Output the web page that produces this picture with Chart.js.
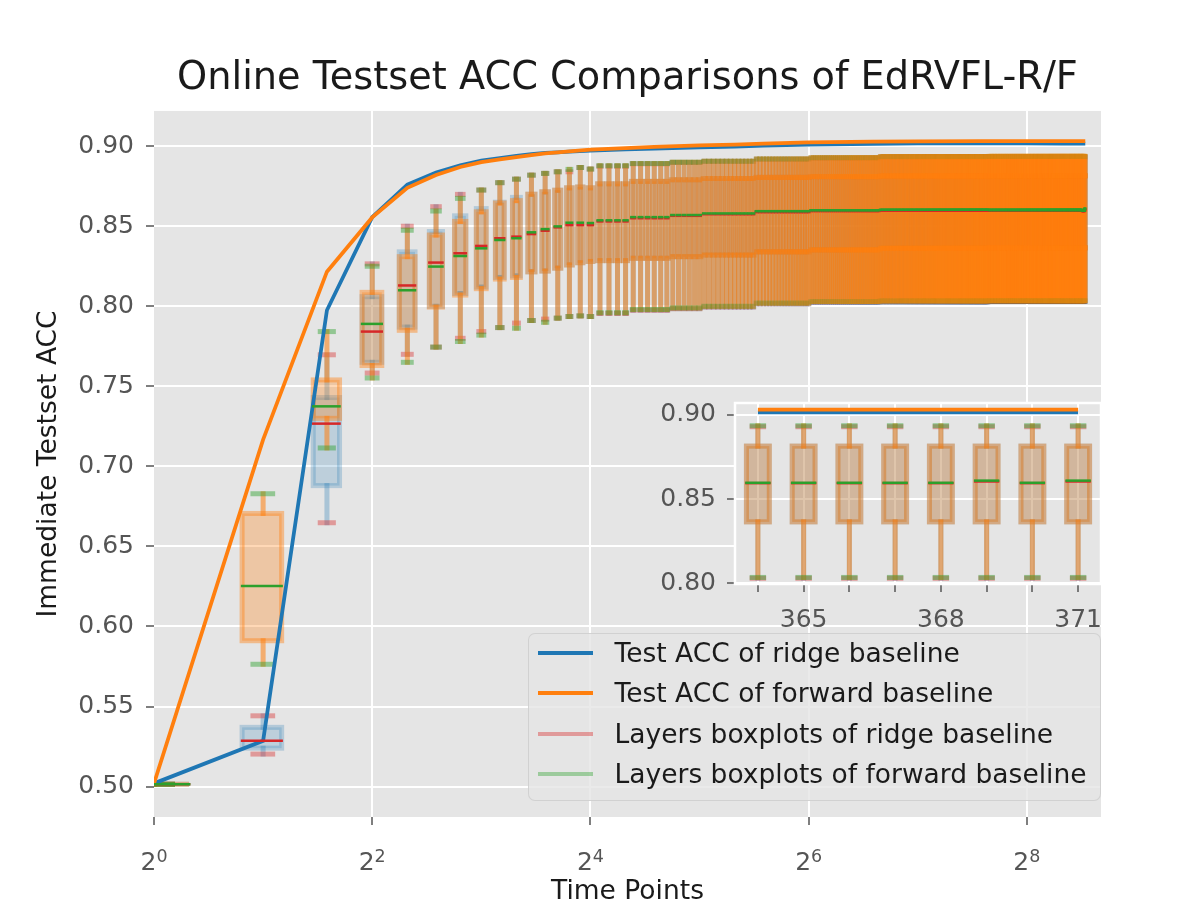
<!DOCTYPE html>
<html><head><meta charset="utf-8">
<script src="https://cdn.jsdelivr.net/npm/chart.js@4.4.1/dist/chart.umd.min.js"></script>
<style>
html,body{margin:0;padding:0;background:#fff;}
#wrap{position:relative;width:1196px;height:917px;overflow:hidden;font-family:'DejaVu Sans',sans-serif;}
#main{position:absolute;left:0;top:0;}
#inset{position:absolute;left:640px;top:377px;}
#legend{position:absolute;left:528px;top:633px;width:573px;height:168px;box-sizing:border-box;background:rgba(229,229,229,0.8);border:1.5px solid rgba(204,204,204,0.8);border-radius:7px;}
.row{position:absolute;left:0;height:40px;width:100%;}
.sw{position:absolute;left:8.5px;top:18px;width:55px;height:4px;}
.tx{position:absolute;left:85.5px;top:0;line-height:40px;font-size:26.5px;color:#1a1a1a;white-space:nowrap;}
</style></head>
<body>
<div id="wrap">
<canvas id="main" width="1196" height="917"></canvas>
<canvas id="inset" width="500" height="258"></canvas>
<div id="legend"></div>
</div>
<script>
// ---- line series (test accuracy) ----
const lineT = [1,2,3,4,5,6,7,8,9,10,11,12,13,14,16,20,24,32,40,48,64,96,128,192,256,320,364,371];
const ridgeAcc = [0.502,0.5286,0.7975,0.8557,0.8760,0.8835,0.8880,0.8910,0.8925,0.8940,0.8950,0.8958,0.8962,0.8966,0.8972,0.8980,0.8985,0.8993,0.8998,0.9003,0.9010,0.9015,0.9017,0.9018,0.9017,0.9016,0.9016,0.9016];
const forwardAcc = [0.502,0.7167,0.8216,0.8555,0.8740,0.8820,0.8870,0.8900,0.8918,0.8932,0.8944,0.8955,0.8962,0.8968,0.8978,0.8988,0.8995,0.9005,0.9010,0.9016,0.9024,0.9028,0.9030,0.9032,0.9032,0.9031,0.9031,0.9031];

// ---- layer boxplots: each row covers time points boxFrom..boxTo ----
const boxFrom = [1,2,3,4,5,6,7,8,9,10,11,12,13,14,15,16,17,21,27,33,46,65,101,201,364,365,366,367,368,369,370,371];
const boxTo   = [1,2,3,4,5,6,7,8,9,10,11,12,13,14,15,16,20,26,32,45,64,100,200,363,364,365,366,367,368,369,370,371];
const ridgeLo  = [0.5015,0.5203,0.6648,0.7583,0.7700,0.7745,0.7800,0.7842,0.7867,0.7895,0.7911,0.7920,0.7926,0.7936,0.7940,0.7936,0.7955,0.7975,0.7985,0.7995,0.8015,0.8025,0.8028,0.8030,0.8030,0.8030,0.8030,0.8030,0.8030,0.8030,0.8030,0.8030];
const ridgeQ1  = [0.5015,0.5240,0.6880,0.7650,0.7870,0.8000,0.8080,0.8120,0.8180,0.8190,0.8215,0.8220,0.8238,0.8258,0.8272,0.8280,0.8285,0.8300,0.8310,0.8320,0.8340,0.8352,0.8362,0.8365,0.8365,0.8365,0.8365,0.8365,0.8365,0.8365,0.8365,0.8365];
const ridgeMed = [0.5015,0.5286,0.7267,0.7842,0.8130,0.8273,0.8331,0.8377,0.8425,0.8435,0.8451,0.8472,0.8493,0.8507,0.8507,0.8507,0.8530,0.8550,0.8565,0.8575,0.8588,0.8595,0.8598,0.8597,0.8595,0.8595,0.8595,0.8595,0.8595,0.8605,0.8595,0.8605];
const ridgeQ3  = [0.5015,0.5370,0.7430,0.8060,0.8340,0.8467,0.8565,0.8610,0.8650,0.8680,0.8700,0.8715,0.8725,0.8740,0.8745,0.8740,0.8765,0.8780,0.8790,0.8798,0.8805,0.8810,0.8814,0.8815,0.8815,0.8815,0.8815,0.8815,0.8815,0.8815,0.8815,0.8815];
const ridgeHi  = [0.5015,0.5442,0.7697,0.8265,0.8500,0.8622,0.8699,0.8726,0.8772,0.8794,0.8819,0.8830,0.8840,0.8840,0.8867,0.8857,0.8875,0.8890,0.8898,0.8905,0.8918,0.8925,0.8932,0.8932,0.8930,0.8930,0.8930,0.8930,0.8930,0.8930,0.8930,0.8930];
const fwdLo  = [0.5015,0.5764,0.7115,0.7552,0.7650,0.7745,0.7780,0.7820,0.7867,0.7863,0.7911,0.7900,0.7926,0.7936,0.7940,0.7936,0.7960,0.7980,0.7990,0.8000,0.8020,0.8030,0.8034,0.8035,0.8035,0.8035,0.8035,0.8035,0.8035,0.8035,0.8035,0.8035];
const fwdQ1  = [0.5015,0.5911,0.7300,0.7630,0.7850,0.7995,0.8070,0.8110,0.8170,0.8180,0.8215,0.8220,0.8238,0.8258,0.8272,0.8280,0.8285,0.8300,0.8310,0.8320,0.8340,0.8352,0.8362,0.8365,0.8365,0.8365,0.8365,0.8365,0.8365,0.8365,0.8365,0.8365];
const fwdMed = [0.5015,0.6253,0.7375,0.7890,0.8100,0.8248,0.8314,0.8362,0.8414,0.8425,0.8462,0.8482,0.8499,0.8522,0.8522,0.8520,0.8537,0.8557,0.8570,0.8580,0.8594,0.8600,0.8603,0.8602,0.8597,0.8597,0.8597,0.8597,0.8597,0.8610,0.8597,0.8610];
const fwdQ3  = [0.5015,0.6706,0.7540,0.8087,0.8310,0.8445,0.8530,0.8590,0.8645,0.8660,0.8700,0.8715,0.8725,0.8740,0.8745,0.8740,0.8765,0.8780,0.8790,0.8798,0.8805,0.8810,0.8814,0.8815,0.8815,0.8815,0.8815,0.8815,0.8815,0.8815,0.8815,0.8815];
const fwdHi  = [0.5015,0.6829,0.7842,0.8250,0.8475,0.8595,0.8674,0.8726,0.8772,0.8794,0.8819,0.8830,0.8840,0.8855,0.8867,0.8857,0.8878,0.8892,0.8900,0.8906,0.8920,0.8928,0.8935,0.8936,0.8936,0.8936,0.8936,0.8936,0.8936,0.8936,0.8936,0.8936];

// ---- ticks ----
const xTickVals = [1,4,16,64,256];
const xTickBase = '2';
const xTickExp = ['0','2','4','6','8'];
const yTickVals = [0.50,0.55,0.60,0.65,0.70,0.75,0.80,0.85,0.90];
const insetXTickVals = [364,365,366,367,368,369,370,371];
const insetXLabelled = [365,368,371];
const insetYTickVals = [0.80,0.85,0.90];

Chart.defaults.font.family = "'DejaVu Sans', sans-serif";

const BOX_W = 0.5, CAP_W = 0.25;
const styles = [
  {lo:ridgeLo,q1:ridgeQ1,med:ridgeMed,q3:ridgeQ3,hi:ridgeHi,
   face:[31,119,180,0.2],edge:[31,119,180,0.25],whisk:[31,119,180,0.3],cap:[214,39,40,0.4],median:'#d62728'},
  {lo:fwdLo,q1:fwdQ1,med:fwdMed,q3:fwdQ3,hi:fwdHi,
   face:[255,127,14,0.3],edge:[255,127,14,0.42],whisk:[255,127,14,0.55],cap:[44,160,44,0.45],median:'#2ca02c'}
];
const rgba=(c,k)=>`rgba(${c[0]},${c[1]},${c[2]},${c[3]*(k===undefined?1:k)})`;

function forEachBox(fn){
  for(let i=0;i<boxFrom.length;i++) for(let t=boxFrom[i];t<=boxTo[i];t++) fn(t,i);
}
function clipArea(ctx,a){ctx.beginPath();ctx.rect(a.left,a.top,a.right-a.left,a.bottom-a.top);ctx.clip();}

function drawBoxes(chart){
  const ctx=chart.ctx, a=chart.chartArea, sx=chart.scales.x, sy=chart.scales.y;
  const inRange=t=>t+0.5>=sx.min && t-0.5<=sx.max;
  ctx.save(); clipArea(ctx,a);
  for(const s of styles){
    forEachBox((t,i)=>{
      if(!inRange(t)) return;
      const x=sx.getPixelForValue(t);
      const x0=sx.getPixelForValue(t-BOX_W/2), x1=sx.getPixelForValue(t+BOX_W/2);
      const c0=sx.getPixelForValue(t-CAP_W/2), c1=sx.getPixelForValue(t+CAP_W/2);
      const y3=sy.getPixelForValue(s.q3[i]), y1=sy.getPixelForValue(s.q1[i]);
      const yl=sy.getPixelForValue(s.lo[i]), yh=sy.getPixelForValue(s.hi[i]);
      // where neighbouring caps pile up on top of each other, soften them
      const gap=Math.abs(sx.getPixelForValue(t+1)-x);
      const capK=Math.max(0.22,Math.min(1,gap/6));
      ctx.fillStyle=rgba(s.face); ctx.fillRect(x0,y3,x1-x0,y1-y3);
      ctx.strokeStyle=rgba(s.edge); ctx.lineWidth=5; ctx.lineJoin='miter'; ctx.strokeRect(x0,y3,x1-x0,y1-y3);
      ctx.strokeStyle=rgba(s.whisk); ctx.lineWidth=5; ctx.lineCap='square';
      ctx.beginPath(); ctx.moveTo(x,y1); ctx.lineTo(x,yl); ctx.stroke();
      ctx.beginPath(); ctx.moveTo(x,y3); ctx.lineTo(x,yh); ctx.stroke();
      ctx.strokeStyle=rgba(s.cap,capK); ctx.lineWidth=5; ctx.lineCap='square';
      ctx.beginPath(); ctx.moveTo(c0,yl); ctx.lineTo(c1,yl); ctx.stroke();
      ctx.beginPath(); ctx.moveTo(c0,yh); ctx.lineTo(c1,yh); ctx.stroke();
    });
  }
  ctx.restore();
}
function drawMedians(chart){
  const ctx=chart.ctx, a=chart.chartArea, sx=chart.scales.x, sy=chart.scales.y;
  const inRange=t=>t+0.5>=sx.min && t-0.5<=sx.max;
  ctx.save(); clipArea(ctx,a);
  for(const s of styles){
    ctx.strokeStyle=s.median; ctx.lineWidth=2.5; ctx.lineCap='square';
    forEachBox((t,i)=>{
      if(!inRange(t)) return;
      const x0=sx.getPixelForValue(t-BOX_W/2), x1=sx.getPixelForValue(t+BOX_W/2);
      const ym=sy.getPixelForValue(s.med[i]);
      ctx.beginPath(); ctx.moveTo(x0,ym); ctx.lineTo(x1,ym); ctx.stroke();
    });
  }
  ctx.restore();
}

const bgPlugin={id:'bg',beforeDraw(chart){const {ctx,chartArea:a}=chart;ctx.save();ctx.fillStyle='#E5E5E5';ctx.fillRect(a.left,a.top,a.right-a.left,a.bottom-a.top);ctx.restore();}};
const boxPlugin={id:'boxes',beforeDatasetsDraw(chart){drawBoxes(chart);},afterDatasetsDraw(chart){drawMedians(chart);}};
const spinePlugin={id:'spines',afterDraw(chart){const {ctx,chartArea:a}=chart;ctx.save();ctx.strokeStyle='#ffffff';ctx.lineWidth=2.5;ctx.strokeRect(a.left,a.top,a.right-a.left,a.bottom-a.top);ctx.restore();}};
// log-axis labels written as base with raised exponent (like 2^4)
const expLabelPlugin={id:'expLabels',afterDraw(chart){
  const ctx=chart.ctx, sx=chart.scales.x, a=chart.chartArea;
  ctx.save(); ctx.fillStyle='#555555'; ctx.textBaseline='alphabetic';
  const baseFont="25px 'DejaVu Sans', sans-serif", expFont="17.5px 'DejaVu Sans', sans-serif";
  xTickVals.forEach((v,k)=>{
    const x=sx.getPixelForValue(v);
    ctx.font=baseFont; const wb=ctx.measureText(xTickBase).width;
    ctx.font=expFont; const we=ctx.measureText(xTickExp[k]).width;
    const left=x-(wb+we)/2, base=a.bottom+53;
    ctx.font=baseFont; ctx.textAlign='left'; ctx.fillText(xTickBase,left,base);
    ctx.font=expFont; ctx.fillText(xTickExp[k],left+wb,base-8);
  });
  ctx.restore();
}};

function lineData(vals,filter){
  return lineT.map((t,i)=>({x:t,y:vals[i]})).filter(p=>!filter||filter(p.x));
}

const mainChart=new Chart(document.getElementById('main'),{
  type:'line',
  data:{datasets:[
    {label:'Test ACC of ridge baseline',data:lineData(ridgeAcc),borderColor:'#1f77b4',backgroundColor:'#1f77b4',borderWidth:3.75,pointRadius:0,tension:0,order:1},
    {label:'Test ACC of forward baseline',data:lineData(forwardAcc),borderColor:'#ff7f0e',backgroundColor:'#ff7f0e',borderWidth:3.75,pointRadius:0,tension:0,order:0},
    {label:'Layers boxplots of ridge baseline',data:[],borderColor:'rgba(214,39,40,0.4)',pointRadius:0},
    {label:'Layers boxplots of forward baseline',data:[],borderColor:'rgba(44,160,44,0.4)',pointRadius:0}
  ]},
  options:{
    responsive:false,animation:false,
    layout:{padding:{left:0,right:95,top:0,bottom:0}},
    plugins:{
      legend:{display:false},tooltip:{enabled:false},
      title:{display:true,text:'Online Testset ACC Comparisons of EdRVFL-R/F',fullSize:false,color:'#1a1a1a',
        font:{size:38.3,weight:'normal',lineHeight:1.2},padding:{top:56.5,bottom:8.5}}
    },
    scales:{
      x:{type:'logarithmic',min:1,max:410,
        afterBuildTicks:s=>{s.ticks=xTickVals.map(v=>({value:v}));},
        afterFit:s=>{s.height=100;},
        ticks:{display:false,autoSkip:false,maxRotation:0},
        grid:{color:c=>c.index===0?'rgba(0,0,0,0)':'#ffffff',lineWidth:2,tickColor:'#555555',tickLength:8,tickWidth:1.5},
        border:{display:false},
        title:{display:true,text:'Time Points',color:'#1a1a1a',font:{size:26.5},padding:{top:0,bottom:9}}
      },
      y:{type:'linear',min:0.481,max:0.922,
        afterBuildTicks:s=>{s.ticks=yTickVals.map(v=>({value:v}));},
        afterFit:s=>{s.width=154;},
        ticks:{color:'#555555',font:{size:25},padding:12,callback:v=>Number(v).toFixed(2)},
        grid:{color:'#ffffff',lineWidth:2,tickColor:'#555555',tickLength:8,tickWidth:1.5},
        border:{display:false},
        title:{display:true,text:'Immediate Testset ACC',color:'#1a1a1a',font:{size:26.5},padding:{top:33,bottom:0}}
      }
    }
  },
  plugins:[bgPlugin,boxPlugin,expLabelPlugin]
});

const inFilter=t=>t>=insetXTickVals[0];
const insetChart=new Chart(document.getElementById('inset'),{
  type:'line',
  data:{datasets:[
    {label:'ridge',data:lineData(ridgeAcc,inFilter),borderColor:'#1f77b4',borderWidth:3.75,pointRadius:0,order:1},
    {label:'forward',data:lineData(forwardAcc,inFilter),borderColor:'#ff7f0e',borderWidth:3.75,pointRadius:0,order:0}
  ]},
  options:{
    responsive:false,animation:false,
    layout:{padding:{left:0,right:39,top:8,bottom:0}},
    plugins:{legend:{display:false},tooltip:{enabled:false}},
    scales:{
      x:{type:'linear',min:363.5,max:371.5,
        afterBuildTicks:s=>{s.ticks=insetXTickVals.map(v=>({value:v}));},
        afterFit:s=>{s.height=51;},
        ticks:{autoSkip:false,maxRotation:0,color:'#555555',font:{size:25},padding:13,
          callback:v=>insetXLabelled.includes(v)?String(v):''},
        grid:{color:'#ffffff',lineWidth:2,tickColor:'#555555',tickLength:8,tickWidth:1.5},
        border:{display:false}
      },
      y:{type:'linear',min:0.7996,max:0.9071,
        afterBuildTicks:s=>{s.ticks=insetYTickVals.map(v=>({value:v}));},
        afterFit:s=>{s.width=95;},
        ticks:{color:'#555555',font:{size:25},padding:11,callback:v=>Number(v).toFixed(2)},
        grid:{color:'#ffffff',lineWidth:2,tickColor:'#555555',tickLength:8,tickWidth:1.5},
        border:{display:false}
      }
    }
  },
  plugins:[bgPlugin,boxPlugin,spinePlugin]
});

// legend built from the main chart's datasets
const lg=document.getElementById('legend');
mainChart.data.datasets.forEach((d,i)=>{
  const row=document.createElement('div');row.className='row';row.style.top=(-1+i*40.3)+'px';
  const sw=document.createElement('span');sw.className='sw';sw.style.background=d.borderColor;
  const tx=document.createElement('span');tx.className='tx';tx.textContent=d.label;
  row.appendChild(sw);row.appendChild(tx);lg.appendChild(row);
});
</script>
</body></html>
